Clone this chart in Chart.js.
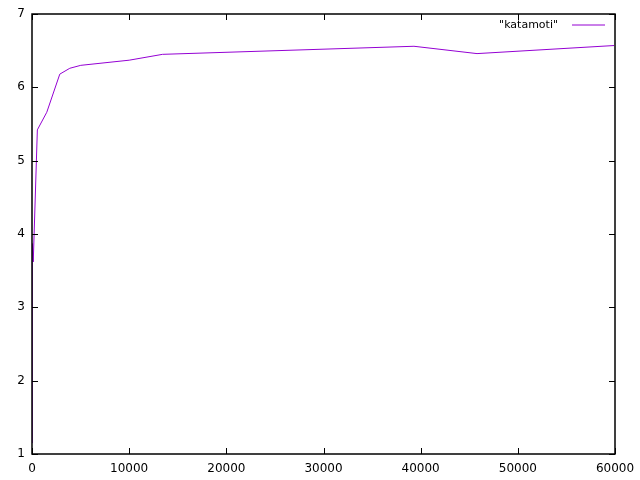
<!DOCTYPE html>
<html>
<head>
<meta charset="utf-8">
<script src="https://cdn.jsdelivr.net/npm/chart.js@4/dist/chart.umd.min.js"></script>
<style>
  html, body { margin: 0; padding: 0; background: #fff; }
  #wrap { width: 640px; height: 480px; }
</style>
</head>
<body>
<div id="wrap"><canvas id="c" width="640" height="480"></canvas></div>
<script>
const seriesLabel = '"katamoti"'
const xs = [10, 30, 130, 550, 1520, 2860, 3890, 5020, 10000, 13440, 39310, 45800, 59900]
const ys = [1.15, 3.87, 3.62, 5.42, 5.66, 6.18, 6.26, 6.30, 6.37, 6.45, 6.56, 6.46, 6.57]
const xTicks = [0, 10000, 20000, 30000, 40000, 50000, 60000]
const yTicks = [1, 2, 3, 4, 5, 6, 7]

const lineColor = '#9400d3'
const font = { family: 'DejaVu Sans', size: 12 }

const points = xs.map((x, i) => ({ x: x, y: ys[i] }))

// gnuplot style frame with inward ticks on all four sides, plus the legend
const framePlugin = {
  id: 'frame',
  afterDraw(chart) {
    const ctx = chart.ctx
    const a = chart.chartArea
    const sx = chart.scales.x
    const sy = chart.scales.y
    ctx.save()
    ctx.strokeStyle = '#000'
    ctx.lineWidth = 1
    ctx.beginPath()
    xTicks.forEach(v => {
      const px = Math.round(sx.getPixelForValue(v)) + 0.5
      ctx.moveTo(px, a.bottom); ctx.lineTo(px, a.bottom - 6)
      ctx.moveTo(px, a.top); ctx.lineTo(px, a.top + 6)
    })
    yTicks.forEach(v => {
      const py = Math.round(sy.getPixelForValue(v)) + 0.5
      ctx.moveTo(a.left, py); ctx.lineTo(a.left + 6, py)
      ctx.moveTo(a.right, py); ctx.lineTo(a.right - 6, py)
    })
    ctx.stroke()
    ctx.lineWidth = 1.5
    ctx.strokeRect(Math.round(a.left), Math.round(a.top), Math.round(a.right - a.left), Math.round(a.bottom - a.top))

    // legend
    ctx.fillStyle = '#000'
    ctx.font = '11px "DejaVu Sans"'
    ctx.textAlign = 'right'
    ctx.textBaseline = 'alphabetic'
    ctx.fillText(seriesLabel, 558, 28)
    ctx.strokeStyle = lineColor
    ctx.lineWidth = 1
    ctx.beginPath()
    ctx.moveTo(572, 25); ctx.lineTo(605, 25)
    ctx.stroke()
    ctx.restore()
  }
}

new Chart(document.getElementById('c'), {
  type: 'line',
  data: {
    datasets: [
      {
        label: seriesLabel,
        data: points,
        borderColor: lineColor,
        borderWidth: 1,
        pointRadius: 0,
        tension: 0,
        fill: false
      }
    ]
  },
  options: {
    responsive: false,
    animation: false,
    layout: { padding: { top: 14, right: 25, left: 0, bottom: 0 } },
    plugins: { legend: { display: false }, tooltip: { enabled: false } },
    scales: {
      x: {
        type: 'linear',
        min: 0,
        max: 60000,
        afterBuildTicks: s => { s.ticks = xTicks.map(v => ({ value: v })) },
        afterFit: s => { s.height = 26; s.paddingLeft = 0; s.paddingRight = 0 },
        grid: { display: false, drawTicks: false },
        border: { display: false },
        ticks: { color: '#000', font: font, padding: 8, maxRotation: 0, callback: v => String(v) }
      },
      y: {
        type: 'linear',
        min: 1,
        max: 7,
        afterBuildTicks: s => { s.ticks = yTicks.map(v => ({ value: v })) },
        afterFit: s => { s.width = 32; s.paddingTop = 0; s.paddingBottom = 0 },
        grid: { display: false, drawTicks: false },
        border: { display: false },
        ticks: { color: '#000', font: font, padding: 7, callback: v => String(v) }
      }
    }
  },
  plugins: [framePlugin]
})
</script>
</body>
</html>
